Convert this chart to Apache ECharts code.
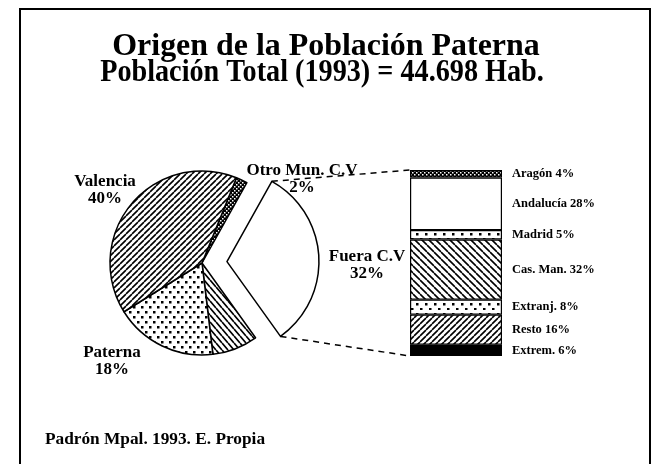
<!DOCTYPE html>
<html>
<head>
<meta charset="utf-8">
<script src="https://cdn.jsdelivr.net/npm/echarts@6/dist/echarts.min.js"></script>
<style>
  html, body { margin: 0; padding: 0; background: #fff; }
  #main { width: 652px; height: 464px; }
</style>
</head>
<body>
<div id="main"></div>
<script>
// pie: clockwise from the small slice at the top
var pieNames = ['Otro Mun. C.V', 'Fuera C.V', '', 'Paterna', 'Valencia'];
var pieValues = [2, 32, 8, 18, 40];
var piePatterns = ['checker', 'white', 'steep', 'dots', 'diagUp'];

// stacked breakdown of "Fuera C.V", top to bottom
var barNames = ['Aragón', 'Andalucía', 'Madrid', 'Cas. Man.', 'Extranj.', 'Resto', 'Extrem.'];
var barValues = [4, 28, 5, 32, 8, 16, 6];
var barPatterns = ['checker', 'white', 'barDots', 'diagDown', 'barDots', 'diagUp', 'black'];

var titleLines = ['Origen de la Población Paterna', 'Población Total (1993) = 44.698 Hab.'];
var sourceText = 'Padrón Mpal. 1993. E. Propia';

// layout
var serif = '"Liberation Serif", "DejaVu Serif", serif';
var pieCenter = [202, 263];
var pieRadius = 92;
var pieStart = 68;
var explode = 25;
var barBox = { left: 410, top: 170, width: 92, height: 186 };
// label centres for the pie slices (null = no label)
var pieLabelPos = [[302, 179], [367, 265], null, [112, 361], [105, 190]];
// title line centres and horizontal squeeze
var titlePos = [[326, 47, 1.03], [322, 73, 0.91]];

function tile(w, h, draw) {
  var c = document.createElement('canvas');
  c.width = w; c.height = h;
  var ctx = c.getContext('2d');
  ctx.fillStyle = '#fff';
  ctx.fillRect(0, 0, w, h);
  ctx.fillStyle = '#000';
  ctx.strokeStyle = '#000';
  draw(ctx, w, h);
  return { image: c, repeat: 'repeat' };
}

function lines(ctx, w, h, up, lw) {
  ctx.lineWidth = lw;
  ctx.beginPath();
  for (var k = -1; k <= 1; k++) {
    if (up) {
      ctx.moveTo(k * w, h); ctx.lineTo(k * w + w, 0);
    } else {
      ctx.moveTo(k * w, 0); ctx.lineTo(k * w + w, h);
    }
  }
  ctx.stroke();
}

var patterns = {
  white: '#fff',
  black: '#000',
  diagUp: tile(6, 6, function (ctx, w, h) { lines(ctx, w, h, true, 1.6); }),
  diagDown: tile(7, 7, function (ctx, w, h) { lines(ctx, w, h, false, 1.6); }),
  steep: tile(6, 7, function (ctx, w, h) { lines(ctx, w, h, false, 1.7); }),
  dots: tile(8, 10, function (ctx) {
    ctx.fillRect(1, 1, 2.5, 2.5); ctx.fillRect(5, 6, 2.5, 2.5);
  }),
  barDots: tile(9, 10, function (ctx) {
    ctx.fillRect(2, 3, 2.5, 2.5); ctx.fillRect(6, 8, 2.5, 2.5);
  }),
  checker: tile(4, 4, function (ctx) {
    ctx.fillRect(0, 0, 4, 4);
    ctx.fillStyle = '#fff';
    ctx.fillRect(0, 0, 1.5, 1.5); ctx.fillRect(2, 2, 1.5, 1.5);
  })
};

var chart = echarts.init(document.getElementById('main'), null, { renderer: 'canvas' });

// pie data
var pieData = pieNames.map(function (n, i) {
  var col = patterns[piePatterns[i]];
  return {
    name: n,
    value: pieValues[i],
    selected: n === 'Fuera C.V',
    itemStyle: { color: col },
    select: { itemStyle: { color: col } }
  };
});

// bar series (stack goes bottom-up, so reverse)
var barTotal = barValues.reduce(function (a, b) { return a + b; }, 0);
var barSeries = [];
for (var i = barNames.length - 1; i >= 0; i--) {
  barSeries.push({
    type: 'bar',
    name: barNames[i],
    stack: 'fuera',
    barWidth: '100%',
    data: [barValues[i]],
    itemStyle: { color: patterns[barPatterns[i]], borderColor: '#000', borderWidth: 1.2 },
    label: {
      show: true,
      position: 'right',
      distance: 10,
      formatter: barNames[i] + ' ' + barValues[i] + '%',
      color: '#000',
      fontFamily: serif,
      fontWeight: 'bold',
      fontSize: 12.5
    }
  });
}

// geometry of the exploded slice, for the dashed connectors
var sum = pieValues.reduce(function (a, b) { return a + b; }, 0);
var fi = pieNames.indexOf('Fuera C.V');
var before = 0;
for (var j = 0; j < fi; j++) before += pieValues[j];
var a0 = pieStart - before / sum * 360;
var a1 = a0 - pieValues[fi] / sum * 360;
var am = (a0 + a1) / 2;
var rad = Math.PI / 180;
var ox = pieCenter[0] + explode * Math.cos(am * rad);
var oy = pieCenter[1] - explode * Math.sin(am * rad);
var pTop = [ox + pieRadius * Math.cos(a0 * rad), oy - pieRadius * Math.sin(a0 * rad)];
var pBot = [ox + pieRadius * Math.cos(a1 * rad), oy - pieRadius * Math.sin(a1 * rad)];

var graphics = [
  {
    type: 'rect', silent: true,
    shape: { x: 20, y: 9, width: 630, height: 470 },
    style: { fill: 'none', stroke: '#000', lineWidth: 2 }
  },
  {
    type: 'line', silent: true,
    shape: { x1: pTop[0], y1: pTop[1], x2: barBox.left, y2: barBox.top },
    style: { stroke: '#000', lineWidth: 1.5, lineDash: [6, 5] }
  },
  {
    type: 'line', silent: true,
    shape: { x1: pBot[0], y1: pBot[1], x2: barBox.left, y2: barBox.top + barBox.height },
    style: { stroke: '#000', lineWidth: 1.5, lineDash: [6, 5] }
  },
  {
    type: 'text', silent: true, x: 45, y: 440, scaleX: 1.08,
    style: { text: sourceText, fill: '#000', font: 'bold 16px ' + serif, verticalAlign: 'middle' }
  }
];

titleLines.forEach(function (t, i) {
  graphics.push({
    type: 'text', silent: true,
    x: titlePos[i][0], y: titlePos[i][1], scaleX: titlePos[i][2],
    style: { text: t, fill: '#000', font: 'bold 31px ' + serif, align: 'center', verticalAlign: 'middle' }
  });
});

pieNames.forEach(function (n, i) {
  if (!pieLabelPos[i]) return;
  graphics.push({
    type: 'text', silent: true, z: 10,
    x: pieLabelPos[i][0], y: pieLabelPos[i][1],
    style: {
      text: n + '\n' + pieValues[i] + '%',
      fill: '#000',
      font: 'bold 17px ' + serif,
      lineHeight: 17,
      align: 'center',
      verticalAlign: 'middle'
    }
  });
});

var option = {
  animation: false,
  backgroundColor: '#fff',
  grid: {
    left: barBox.left,
    top: barBox.top,
    width: barBox.width,
    height: barBox.height,
    containLabel: false
  },
  xAxis: { type: 'category', data: ['Fuera C.V'], show: false },
  yAxis: { type: 'value', min: 0, max: barTotal, show: false },
  series: [{
    type: 'pie',
    center: pieCenter,
    radius: pieRadius,
    startAngle: pieStart,
    clockwise: true,
    selectedMode: 'single',
    selectedOffset: explode,
    silent: true,
    label: { show: false },
    labelLine: { show: false },
    itemStyle: { borderColor: '#000', borderWidth: 1.5 },
    emphasis: { disabled: true },
    data: pieData
  }].concat(barSeries),
  graphic: graphics
};

chart.setOption(option);
</script>
</body>
</html>
